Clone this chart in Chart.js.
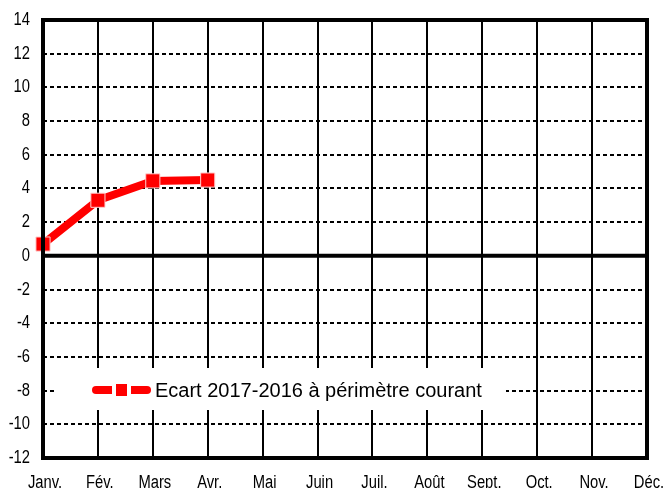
<!DOCTYPE html>
<html>
<head>
<meta charset="utf-8">
<script src="https://cdn.jsdelivr.net/npm/chart.js@4/dist/chart.umd.min.js"></script>
<style>
  html, body { margin: 0; padding: 0; background: #fff; }
  #wrap { width: 664px; height: 488px; }
</style>
</head>
<body>
<div id="wrap"><canvas id="c" width="664" height="488"></canvas></div>
<script>
const months = ["Janv.", "Fév.", "Mars", "Avr.", "Mai", "Juin", "Juil.", "Août", "Sept.", "Oct.", "Nov.", "Déc."];
const seriesLabel = "Ecart 2017-2016 à périmètre courant";
const ecartValues = [0.7, 3.3, 4.45, 4.5, null, null, null, null, null, null, null, null];
const yMin = -12, yMax = 14, yStep = 2;

const TICK_FONT = "'Liberation Sans', Arial, sans-serif";
const LEG_FONT = "'Liberation Sans', Arial, sans-serif";
const RED = '#ff0000';
const NARROW = 0.82;

const framePlugin = {
  id: 'frame',
  afterDraw(chart) {
    const { ctx, chartArea: a, scales } = chart;
    ctx.save();
    const y0 = scales.y.getPixelForValue(0);
    ctx.strokeStyle = '#000';
    ctx.lineWidth = 4;
    ctx.beginPath();
    ctx.moveTo(a.left, y0);
    ctx.lineTo(a.right, y0);
    ctx.stroke();
    ctx.strokeRect(a.left, a.top, a.right - a.left, a.bottom - a.top);
    ctx.restore();
  }
};

// draws the library's own tick labels in a condensed face
const narrowTicksPlugin = {
  id: 'narrowTicks',
  afterDraw(chart) {
    const { ctx, chartArea: a, scales } = chart;
    ctx.save();
    ctx.fillStyle = '#000';
    ctx.font = "18px " + TICK_FONT;
    const ys = scales.y;
    ys.ticks.forEach((t, i) => {
      const y = ys.getPixelForTick(i);
      ctx.save();
      ctx.translate(a.left - 13, y);
      ctx.scale(NARROW, 1);
      ctx.textAlign = 'right';
      ctx.textBaseline = 'middle';
      ctx.fillText(t.label, 0, 0);
      ctx.restore();
    });
    const xs = scales.x;
    xs.ticks.forEach((t, i) => {
      const x = xs.getPixelForTick(i);
      ctx.save();
      ctx.translate(x + 2, 488);
      ctx.scale(NARROW, 1);
      ctx.textAlign = 'center';
      ctx.textBaseline = 'alphabetic';
      ctx.fillText(t.label, 0, 0);
      ctx.restore();
    });
    ctx.restore();
  }
};

const legendPlugin = {
  id: 'innerLegend',
  afterDraw(chart) {
    const { ctx } = chart;
    const ds = chart.data.datasets[0];
    ctx.save();
    ctx.fillStyle = '#fff';
    ctx.fillRect(57, 368, 449, 42);
    const cy = 390;
    ctx.strokeStyle = ds.borderColor;
    ctx.lineWidth = 8;
    ctx.lineCap = 'round';
    ctx.beginPath();
    ctx.moveTo(96, cy);
    ctx.lineTo(147, cy);
    ctx.stroke();
    ctx.fillStyle = '#fff';
    ctx.fillRect(112, cy - 8, 19, 16);
    ctx.fillStyle = ds.pointBackgroundColor;
    ctx.fillRect(116, cy - 6, 11, 12);
    ctx.fillStyle = '#000';
    ctx.font = "20px " + LEG_FONT;
    ctx.textBaseline = 'middle';
    ctx.textAlign = 'left';
    ctx.fillText(ds.label, 155, cy + 1);
    ctx.restore();
  }
};

new Chart(document.getElementById('c'), {
  type: 'line',
  data: {
    labels: months,
    datasets: [{
      label: seriesLabel,
      data: ecartValues,
      borderColor: RED,
      backgroundColor: RED,
      borderWidth: 8,
      pointStyle: 'rect',
      pointRadius: 10,
      pointBackgroundColor: RED,
      pointBorderColor: '#ffd0d0',
      pointBorderWidth: 1,
      tension: 0,
      clip: false,
      spanGaps: false
    }]
  },
  options: {
    responsive: false,
    animation: false,
    devicePixelRatio: 1,
    layout: { padding: { left: 0, right: 17, top: 20, bottom: 0 } },
    plugins: {
      legend: { display: false },
      tooltip: { enabled: false },
      title: { display: false }
    },
    scales: {
      x: {
        type: 'category',
        offset: false,
        grid: { display: true, color: '#000', lineWidth: 2, drawTicks: false },
        border: { display: false },
        ticks: {
          color: 'rgba(0,0,0,0)',
          font: { family: TICK_FONT, size: 18 },
          padding: 14,
          maxRotation: 0,
          autoSkip: false
        },
        afterFit(scale) {
          scale.height = 30;
          scale.paddingLeft = 0;
          scale.paddingRight = 0;
        }
      },
      y: {
        min: yMin,
        max: yMax,
        grid: { display: true, color: '#000', lineWidth: 2, drawTicks: false },
        border: { display: false, dash: [4, 3] },
        ticks: {
          stepSize: yStep,
          color: 'rgba(0,0,0,0)',
          font: { family: TICK_FONT, size: 18 },
          padding: 13
        },
        afterFit(scale) {
          scale.width = 43;
          scale.paddingTop = 0;
          scale.paddingBottom = 0;
        }
      }
    }
  },
  plugins: [framePlugin, narrowTicksPlugin, legendPlugin]
});
</script>
</body>
</html>
